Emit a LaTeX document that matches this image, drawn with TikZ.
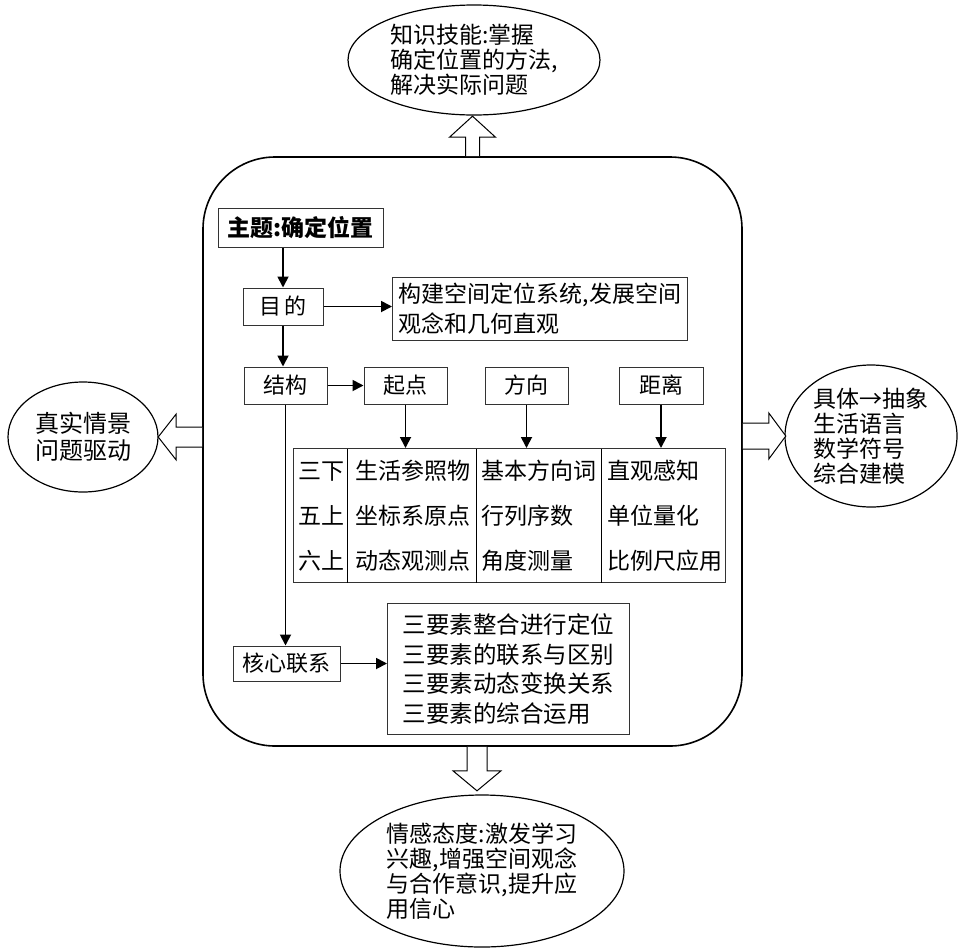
\documentclass[tikz,border=0pt]{standalone}
\usepackage{fontspec}
\setmainfont{Noto Sans CJK SC}
\usepackage{tikz}
\usetikzlibrary{shapes.geometric, arrows.meta, positioning, calc}
\setlength{\arrayrulewidth}{1pt}

\begin{document}
\begin{tikzpicture}[
    x=1pt, y=-1pt,
    % styles
    goal/.style={
        draw, ellipse, line width=1.2pt, inner sep=0pt, align=left, font=\fontsize{23}{25}\selectfont
    },
    frame/.style={
        draw, line width=1.6pt, rounded corners=72pt, inner sep=0pt
    },
    item/.style={
        draw=black!80, line width=1pt, fill=white, inner sep=0pt, minimum height=37pt, font=\fontsize{22}{26}\selectfont
    },
    textbox/.style={
        draw=black!80, line width=1pt, align=left, inner ysep=0pt, inner xsep=5pt, font=\fontsize{23}{30}\selectfont
    },
    gridbox/.style={
        draw=black!80, line width=1pt, inner sep=0pt, font=\fontsize{23}{26}\selectfont
    },
    flow/.style={
        -{Triangle[length=11pt,width=11pt]}, line width=1.8pt
    },
    hollow/.style={
        draw, line width=1pt, fill=white, line join=miter
    }
]
    \useasboundingbox (0,0) rectangle (963,951);

    % --- 1. FRAME ---
    \node[frame, minimum width=539pt, minimum height=589pt] (frame) at (472.5,451.5) {};

    % --- 2. GOALS (Outside) ---
    \node[goal, minimum width=252pt, minimum height=110pt] (topgoal) at (474,60) {
        知识技能:掌握\\
        确定位置的方法,\\
        解决实际问题
    };
    \node[goal, align=center, minimum width=150pt, minimum height=110pt, font=\fontsize{24}{27}\selectfont] (leftgoal) at (83,437) {
        真实情景\\
        问题驱动
    };
    \node[goal, minimum width=172pt, minimum height=142pt] (rightgoal) at (871,436) {
        具体→抽象\\
        生活语言\\
        数学符号\\
        综合建模
    };
    \node[goal, minimum width=284pt, minimum height=152pt] (bottomgoal) at (482,871) {
        情感态度:激发学习\\
        兴趣,增强空间观念\\
        与合作意识,提升应\\
        用信心
    };

    % Hollow arrows from the frame
    \draw[hollow] (frame.north) ++(-7,0) -- ++(0,-19) -- ++(-16,0) -- ++(23,-21) -- ++(23,21) -- ++(-16,0) -- ++(0,19);
    \draw[hollow] (frame.west |- leftgoal.east) ++(0,-10) -- ++(-26,0) -- ++(0,-13) -- ++(-18,23) -- ++(18,23) -- ++(0,-13) -- ++(26,0);
    \draw[hollow] (frame.east |- rightgoal.west) ++(0,-13) -- ++(26,0) -- ++(0,-10) -- ++(17,23) -- ++(-17,23) -- ++(0,-10) -- ++(-26,0);
    \draw[hollow] ($(frame.south)+(4.5,0)$) ++(-10,0) -- ++(0,24) -- ++(-14,0) -- ++(24,20) -- ++(24,-20) -- ++(-14,0) -- ++(0,-24);

    % --- 3. TOPIC & PURPOSE ---
    \node[item, minimum width=165pt, minimum height=39pt, font=\fontsize{23}{26}\selectfont\bfseries] (topic) at (300.5,227.5) {主题:确定位置};
    \node[item, minimum width=80pt] (purpose) at (283,306.5) {目\hspace{3pt}的};
    \node[textbox, anchor=north west, minimum width=295pt, minimum height=63pt] (purposetext) at (392,277) {
        构建空间定位系统,发展空间\\
        观念和几何直观
    };

    \draw[flow] (topic.south -| purpose.north) -- (purpose.north);
    \draw[flow] (purpose.east) -- (purpose.east -| purposetext.west);

    % --- 4. STRUCTURE ---
    \node[item, minimum width=83pt] (structure) at (285.5,385.5) {结构};
    \node[item, minimum width=83pt] (start) at (405.5,385.5) {起点};
    \node[item, minimum width=83pt, right=37pt of start] (direction) {方向};
    \node[item, minimum width=84pt, right=50pt of direction] (distance) {距离};

    \node[gridbox, anchor=north west] (grid) at (293,448) {%
        \renewcommand{\arraystretch}{1.72}%
        \begin{tabular}{@{\hspace{5pt}}p{49pt}@{}|@{\hspace{7pt}}p{121pt}@{}|@{\hspace{5pt}}p{120pt}@{}|@{\hspace{5pt}}p{118pt}@{}}
            三下 & 生活参照物 & 基本方向词 & 直观感知\\
            五上 & 坐标系原点 & 行列序数 & 单位量化\\
            六上 & 动态观测点 & 角度测量 & 比例尺应用
        \end{tabular}%
    };

    \draw[flow] (purpose.south) -- (purpose.south |- structure.north);
    \draw[flow] (structure.east) -- (start.west);
    \draw[flow] (start.south) -- (start.south |- grid.north);
    \draw[flow] (direction.south) -- (direction.south |- grid.north);
    \draw[flow] (distance.south) -- (distance.south |- grid.north);

    % --- 5. CORE LINK ---
    \node[item, minimum width=107pt, minimum height=35pt] (core) at (286.5,663.5) {核心联系};
    \node[textbox, anchor=north west, inner xsep=14pt, minimum width=242pt, minimum height=131pt, font=\fontsize{23.5}{29.5}\selectfont] (coretext) at (387,603) {
        三要素整合进行定位\\
        三要素的联系与区别\\
        三要素动态变换关系\\
        三要素的综合运用
    };

    \draw[flow] (structure.south) -- (structure.south |- core.north);
    \draw[flow] (core.east) -- (core.east -| coretext.west);

\end{tikzpicture}
\end{document}
